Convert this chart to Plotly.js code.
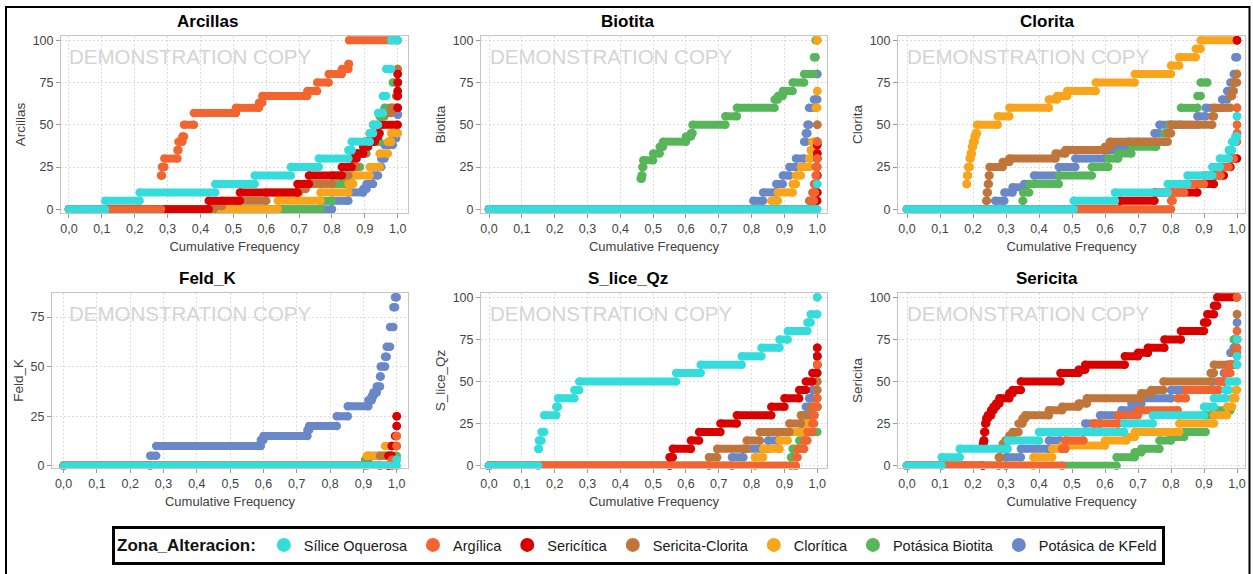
<!DOCTYPE html>
<html>
<head>
<meta charset="utf-8">
<script src="https://cdn.plot.ly/plotly-3.0.1.min.js"></script>
<style>
  html, body { margin: 0; padding: 0; background: #ffffff; }
  #chart { width: 1253px; height: 574px; }
</style>
</head>
<body>
<div id="chart"></div>
<script>
// Alteration zones (legend order) and their colours
const zones = ['Sílice Oquerosa', 'Argílica', 'Sericítica', 'Sericita-Clorita', 'Clorítica', 'Potásica Biotita', 'Potásica de KFeld'];
const zoneColors = ['#35dcdc', '#f26430', '#d90000', '#c0763b', '#f9a51c', '#57b55a', '#6a87c7'];

// Cumulative frequency curves: each pair is [cumulative frequency where a step starts, value].
// A step runs until the next pair starts (or to 1,0); a null value closes the previous step.

// Arcillas
const arcSilice = [[0,0],[0.11,5],[0.215,10],[0.445,15],[0.565,20],[0.675,25],[0.76,30],[0.85,35],[0.86,40],[0.915,45],[0.925,50],[0.94,57],[0.955,67],[0.965,83],[0.98,100]];
const arcArgilica = [[0,0],[0.28,20],[0.283,25],[0.29,30],[0.33,35],[0.333,40],[0.345,43],[0.35,50],[0.38,57],[0.508,60],[0.578,63],[0.588,67],[0.725,70],[0.755,75],[0.79,80],[0.83,83],[0.85,86],[0.852,100]];
const arcSericitica = [[0,0],[0.425,5],[0.52,10],[0.695,15],[0.73,20],[0.83,25],[0.86,30],[0.875,33],[0.895,37],[0.91,40],[0.93,43],[0.94,45],[0.945,50],[1.0,60],[1.0,67],[1.0,70],[1.0,75],[1.0,80]];
const arcSerClorita = [[0,0],[0.44,2],[0.465,5],[0.6,10],[0.7,12],[0.72,15],[0.8,20],[0.85,25],[0.875,33],[0.9,40],[0.915,45],[0.925,50],[0.955,57],[0.98,60],[0.995,67],[1.0,83]];
const arcCloritica = [[0,0],[0.635,5],[0.765,10],[0.85,15],[0.865,20],[0.915,25],[0.945,33],[0.97,40],[0.98,45]];
const arcBiotita = [[0,0],[0.765,5],[0.8,15],[0.84,20],[0.865,25],[0.885,33],[0.905,40],[0.945,55],[0.96,60],[0.985,75]];
const arcKFeld = [[0,0],[0.8,5],[0.85,10],[0.895,12],[0.905,15],[0.925,20],[0.94,25],[0.95,30],[0.96,38],[0.985,42],[0.995,45],[1.0,56]];

// Biotita
const bioSilice = [[0,0],[1.0,15]];
const bioArgilica = [[0,0],[0.985,5],[0.99,10],[0.993,15],[0.995,20],[0.997,25],[1.0,30],[1.0,40]];
const bioSericitica = [[0,0],[0.99,5],[1.0,10],[1.0,20],[1.0,30],[1.0,33],[1.0,38]];
const bioSerClorita = [[0,0],[0.975,5],[0.985,10],[0.99,15],[0.995,25],[1.0,40],[1.0,50]];
const bioCloritica = [[0,0],[0.86,5],[0.88,10],[0.925,15],[0.935,20],[0.95,25],[0.975,30],[0.98,35],[0.985,40],[0.995,60],[1.0,70],[1.0,100]];
const bioBiotita = [[0,0],[0.462,18],[0.465,20],[0.467,25],[0.47,29],[0.5,33],[0.52,37],[0.53,40],[0.6,43],[0.615,45],[0.62,50],[0.72,55],[0.755,60],[0.87,65],[0.88,67],[0.895,70],[0.925,75],[0.96,80],[0.99,90],[0.995,100]];
const bioKFeld = [[0,0],[0.805,5],[0.835,10],[0.875,15],[0.895,20],[0.915,25],[0.935,30],[0.96,40],[0.965,45],[0.97,50],[0.975,60],[0.99,65],[1.0,80]];

// Clorita
const cloSilice = [[0,0],[0.505,5],[0.63,10],[0.79,15],[0.85,20],[0.925,25],[0.948,30],[0.975,35],[0.985,40],[0.995,43],[1.0,55]];
const cloArgilica = [[0,0],[0.8,5],[0.805,10],[0.84,15],[0.9,20],[0.95,25],[0.975,30],[0.99,40],[1.0,45],[1.0,50],[1.0,60]];
const cloSericitica = [[0,0],[0.645,5],[0.75,10],[0.88,15],[0.93,20],[0.96,25],[0.98,30],[1.0,100]];
const cloSerClorita = [[0,0],[0.24,5],[0.242,10],[0.245,15],[0.248,20],[0.25,25],[0.29,28],[0.31,30],[0.45,33],[0.48,35],[0.6,37],[0.615,40],[0.79,45],[0.8,50],[0.925,55],[0.93,60],[0.98,67],[0.985,70],[0.99,75],[1.0,80]];
const cloCloritica = [[0,0],[0.18,15],[0.182,20],[0.185,25],[0.19,30],[0.193,33],[0.197,37],[0.2,40],[0.205,43],[0.208,45],[0.212,50],[0.275,55],[0.31,60],[0.43,65],[0.455,67],[0.485,70],[0.572,75],[0.69,80],[0.8,85],[0.825,90],[0.875,95],[0.89,100]];
const cloBiotita = [[0,0],[0.35,5],[0.352,10],[0.37,15],[0.46,20],[0.56,25],[0.61,30],[0.64,33],[0.68,37],[0.755,40],[0.78,45],[0.795,50],[0.83,60],[0.88,67],[0.89,75],[0.91,null]];
const cloKFeld = [[0,0],[0.267,5],[0.295,10],[0.32,13],[0.355,15],[0.385,20],[0.46,25],[0.51,30],[0.6,35],[0.625,37],[0.67,40],[0.75,45],[0.765,50],[0.88,55],[0.905,60],[0.955,65],[0.97,70],[0.98,75],[0.99,80],[0.995,90]];

// Feld_K
const fkSilice = [[0,0],[1.0,3]];
const fkArgilica = [[0,0],[0.985,3],[1.0,10],[1.0,15]];
const fkSericitica = [[0,0],[0.975,5],[0.985,10],[0.995,15],[1.0,20],[1.0,25]];
const fkSerClorita = [[0,0],[0.95,5],[0.985,10]];
const fkCloritica = [[0,0],[0.91,5],[0.965,10]];
const fkBiotita = [[0,0],[0.905,3],[0.915,5]];
const fkKFeld = [[0,0],[0.26,5],[0.278,10],[0.592,13],[0.6,15],[0.732,18],[0.737,20],[0.82,25],[0.853,30],[0.915,33],[0.925,35],[0.93,37],[0.94,40],[0.95,45],[0.952,50],[0.965,55],[0.97,60],[0.98,70],[0.99,80],[0.995,85]];

// S_lice_Qz
const sqSilice = [[0,0],[0.15,10],[0.152,15],[0.16,20],[0.168,30],[0.205,35],[0.21,40],[0.26,45],[0.275,50],[0.57,55],[0.645,60],[0.77,65],[0.83,70],[0.885,75],[0.91,80],[0.97,85],[0.98,90],[1.0,100]];
const sqArgilica = [[0,0],[0.935,5],[0.94,10],[0.96,15],[0.97,20],[0.985,25],[0.99,30],[0.992,35],[1.0,40],[1.0,60]];
const sqSericitica = [[0,0],[0.55,5],[0.56,10],[0.615,15],[0.64,20],[0.705,25],[0.755,30],[0.86,35],[0.9,40],[0.945,45],[0.965,50],[0.985,55],[1.0,60],[1.0,65],[1.0,70]];
const sqSerClorita = [[0,0],[0.67,5],[0.695,10],[0.785,15],[0.825,20],[0.915,25],[0.95,30],[0.98,35],[1.0,45],[1.0,50]];
const sqCloritica = [[0,0],[0.81,5],[0.835,10],[0.885,15],[0.91,20],[0.965,25],[0.975,30],[0.99,35]];
const sqBiotita = [[0,0],[0.92,5],[0.925,10],[0.945,15],[0.96,20],[1.0,35]];
const sqKFeld = [[0,0],[0.74,5],[0.775,10],[0.85,15],[0.88,20],[0.95,25],[0.958,30],[0.965,35],[0.975,40],[0.985,45],[0.99,55],[1.0,65]];

// Sericita
const seSilice = [[0,0],[0.105,5],[0.16,10],[0.305,15],[0.4,20],[0.658,25],[0.745,30],[0.9,35],[0.93,40],[0.965,45],[0.975,50],[1.0,60],[1.0,65],[1.0,75]];
const seArgilica = [[0,0],[0.47,10],[0.48,15],[0.535,20],[0.565,25],[0.64,30],[0.7,33],[0.82,40],[0.845,45],[0.945,50],[0.965,55],[0.98,60],[1.0,70],[1.0,80],[1.0,100]];
const seSericitica = [[0,0],[0.23,13],[0.232,15],[0.234,20],[0.237,25],[0.24,28],[0.245,30],[0.255,33],[0.262,35],[0.27,37],[0.28,40],[0.31,43],[0.32,45],[0.345,50],[0.465,55],[0.52,57],[0.54,60],[0.66,65],[0.7,67],[0.73,70],[0.78,75],[0.83,80],[0.9,85],[0.91,90],[0.93,95],[0.94,100]];
const seSerClorita = [[0,0],[0.278,5],[0.283,10],[0.29,13],[0.298,15],[0.31,18],[0.32,20],[0.338,25],[0.35,28],[0.358,30],[0.43,33],[0.47,35],[0.52,37],[0.545,40],[0.71,43],[0.74,45],[0.777,50],[0.92,55],[0.93,60],[0.99,67],[1.0,75],[1.0,90]];
const seCloritica = [[0,0],[0.383,5],[0.44,10],[0.47,12],[0.6,15],[0.665,17],[0.69,20],[0.825,25],[0.93,30],[0.97,35],[0.985,40],[0.995,45]];
const seBiotita = [[0,0],[0.635,5],[0.69,8],[0.71,10],[0.765,15],[0.8,17],[0.84,20],[0.905,30],[0.93,33],[0.98,60],[0.99,75]];
const seKFeld = [[0,0],[0.3,5],[0.345,10],[0.43,15],[0.465,20],[0.54,25],[0.585,30],[0.65,33],[0.68,37],[0.71,40],[0.8,45],[0.925,50],[0.96,55],[0.97,60],[0.98,67],[0.99,70],[0.992,75],[1.0,85]];

// Panels, series listed in legend order
const panels = [
  { title: 'Arcillas',  series: [arcSilice, arcArgilica, arcSericitica, arcSerClorita, arcCloritica, arcBiotita, arcKFeld] },
  { title: 'Biotita',   series: [bioSilice, bioArgilica, bioSericitica, bioSerClorita, bioCloritica, bioBiotita, bioKFeld] },
  { title: 'Clorita',   series: [cloSilice, cloArgilica, cloSericitica, cloSerClorita, cloCloritica, cloBiotita, cloKFeld] },
  { title: 'Feld_K',    series: [fkSilice, fkArgilica, fkSericitica, fkSerClorita, fkCloritica, fkBiotita, fkKFeld] },
  { title: 'S_lice_Qz', series: [sqSilice, sqArgilica, sqSericitica, sqSerClorita, sqCloritica, sqBiotita, sqKFeld] },
  { title: 'Sericita',  series: [seSilice, seArgilica, seSericitica, seSerClorita, seCloritica, seBiotita, seKFeld] }
];
const yTicks = [[0,25,50,75,100],[0,25,50,75,100],[0,25,50,75,100],[0,25,50,75],[0,25,50,75,100],[0,25,50,75,100]];
const xTicks = [0,0.1,0.2,0.3,0.4,0.5,0.6,0.7,0.8,0.9,1.0];

// Page geometry (pixels) for each panel's plotting area
const W = 1253, H = 574;
const boxes = [
  { l: 61,  r: 408,  t: 36,    b: 213,   x: [-0.0243, 1.0313], y: [-2.19, 102.5], titleX: 207.5,  titleY: 21 },
  { l: 481, r: 827,  t: 36,    b: 213,   x: [-0.0244, 1.0296], y: [-2.19, 102.5], titleX: 627.5,  titleY: 21 },
  { l: 898, r: 1245, t: 36,    b: 213,   x: [-0.0273, 1.0242], y: [-2.19, 102.5], titleX: 1047,   titleY: 21 },
  { l: 52,  r: 408,  t: 292.5, b: 468.3, x: [-0.0348, 1.0339], y: [-1.31, 87.4],  titleX: 207.5,  titleY: 278 },
  { l: 481, r: 827,  t: 292.5, b: 468.3, x: [-0.0244, 1.0296], y: [-1.54, 102.85], titleX: 627.5, titleY: 278 },
  { l: 898, r: 1245, t: 292.5, b: 468.3, x: [-0.0273, 1.0242], y: [-1.54, 102.85], titleX: 1047,  titleY: 278 }
];

const END = 1.0;
function steps(pairs) {
  const xs = [], ys = [];
  for (let i = 0; i < pairs.length; i++) {
    const lv = pairs[i][1];
    if (lv === null) continue;
    const x0 = pairs[i][0];
    const x1 = i + 1 < pairs.length ? pairs[i + 1][0] : END;
    xs.push(x0, x1, null);
    ys.push(lv, lv, null);
  }
  return { xs, ys };
}

const traces = [];
const layout = {
  width: W, height: H,
  margin: { l: 0, r: 0, t: 0, b: 0 },
  paper_bgcolor: '#ffffff',
  plot_bgcolor: '#ffffff',
  separators: ',.',
  font: { family: 'Liberation Sans, Arial, sans-serif', color: '#444444' },
  showlegend: true,
  legend: {
    orientation: 'h',
    x: 112 / W, y: 1 - 526 / H, xanchor: 'left', yanchor: 'top',
    bordercolor: '#000000', borderwidth: 3, bgcolor: '#ffffff',
    font: { family: 'Liberation Sans, Arial, sans-serif', size: 14.5, color: '#1a1a1a' },
    title: { text: '<b>Zona_Alteracion:</b>', side: 'left', font: { size: 17, color: '#111111' } },
    itemwidth: 30, traceorder: 'normal'
  },
  annotations: [],
  shapes: [
    { type: 'rect', xref: 'paper', yref: 'paper', x0: 6 / W, x1: 1249.5 / W, y0: -0.05, y1: 1 - 7 / H,
      line: { color: '#000000', width: 2 }, fillcolor: 'rgba(0,0,0,0)', layer: 'below' }
  ]
};

panels.forEach((p, k) => {
  const n = k + 1;
  const xa = n === 1 ? 'x' : 'x' + n;
  const ya = n === 1 ? 'y' : 'y' + n;
  const bx = boxes[k];
  // draw the last zone first so the first zone sits on top
  for (let s = p.series.length - 1; s >= 0; s--) {
    const st = steps(p.series[s]);
    traces.push({
      type: 'scatter', mode: 'lines+markers',
      x: st.xs, y: st.ys, xaxis: xa, yaxis: ya,
      name: zones[s], showlegend: false, connectgaps: false,
      line: { color: zoneColors[s], width: 8 },
      marker: { color: zoneColors[s], size: 8.5 },
      hoverinfo: 'skip', cliponaxis: false
    });
  }
  const axStyle = {
    showline: true, mirror: true, linecolor: '#c4c4c4', linewidth: 1,
    showgrid: true, gridcolor: '#dddddd', griddash: '2px,2px', gridwidth: 1,
    zeroline: false, ticks: 'outside', ticklen: 4, tickcolor: '#9a9a9a',
    tickfont: { size: 12.5, color: '#444444' }, fixedrange: true
  };
  layout['xaxis' + (n === 1 ? '' : n)] = Object.assign({}, axStyle, {
    domain: [bx.l / W, bx.r / W], range: bx.x, anchor: ya,
    tickvals: xTicks, tickformat: '.1f',
    title: { text: 'Cumulative Frequency', font: { size: 13, color: '#404040' }, standoff: 6 }
  });
  layout['yaxis' + (n === 1 ? '' : n)] = Object.assign({}, axStyle, {
    domain: [1 - bx.b / H, 1 - bx.t / H], range: bx.y, anchor: xa,
    tickvals: yTicks[k], ticklabelstandoff: 0,
    title: { text: p.title, font: { size: 13.5, color: '#404040' }, standoff: 3 }
  });
  layout.annotations.push({
    text: '<b>' + p.title + '</b>', xref: 'paper', yref: 'paper',
    x: bx.titleX / W, y: 1 - bx.titleY / H, xanchor: 'center', yanchor: 'middle',
    showarrow: false, font: { size: 17, color: '#000000' }
  });
  layout.annotations.push({
    text: 'DEMONSTRATION COPY', xref: 'paper', yref: 'paper',
    x: (k % 3 === 0 ? 67 : bx.l + 7) / W, y: 1 - (bx.t + 21) / H,
    xanchor: 'left', yanchor: 'middle', showarrow: false,
    font: { size: 20.5, color: '#d4d4d4' }
  });
});

// Legend entries
zones.forEach((z, i) => {
  traces.push({
    type: 'scatter', mode: 'markers', x: [null], y: [null],
    xaxis: 'x', yaxis: 'y', name: z, showlegend: true, legendrank: i + 1,
    marker: { color: zoneColors[i], size: 14 }, hoverinfo: 'skip'
  });
});

Plotly.newPlot('chart', traces, layout, { staticPlot: true, displayModeBar: false });
</script>
</body>
</html>
